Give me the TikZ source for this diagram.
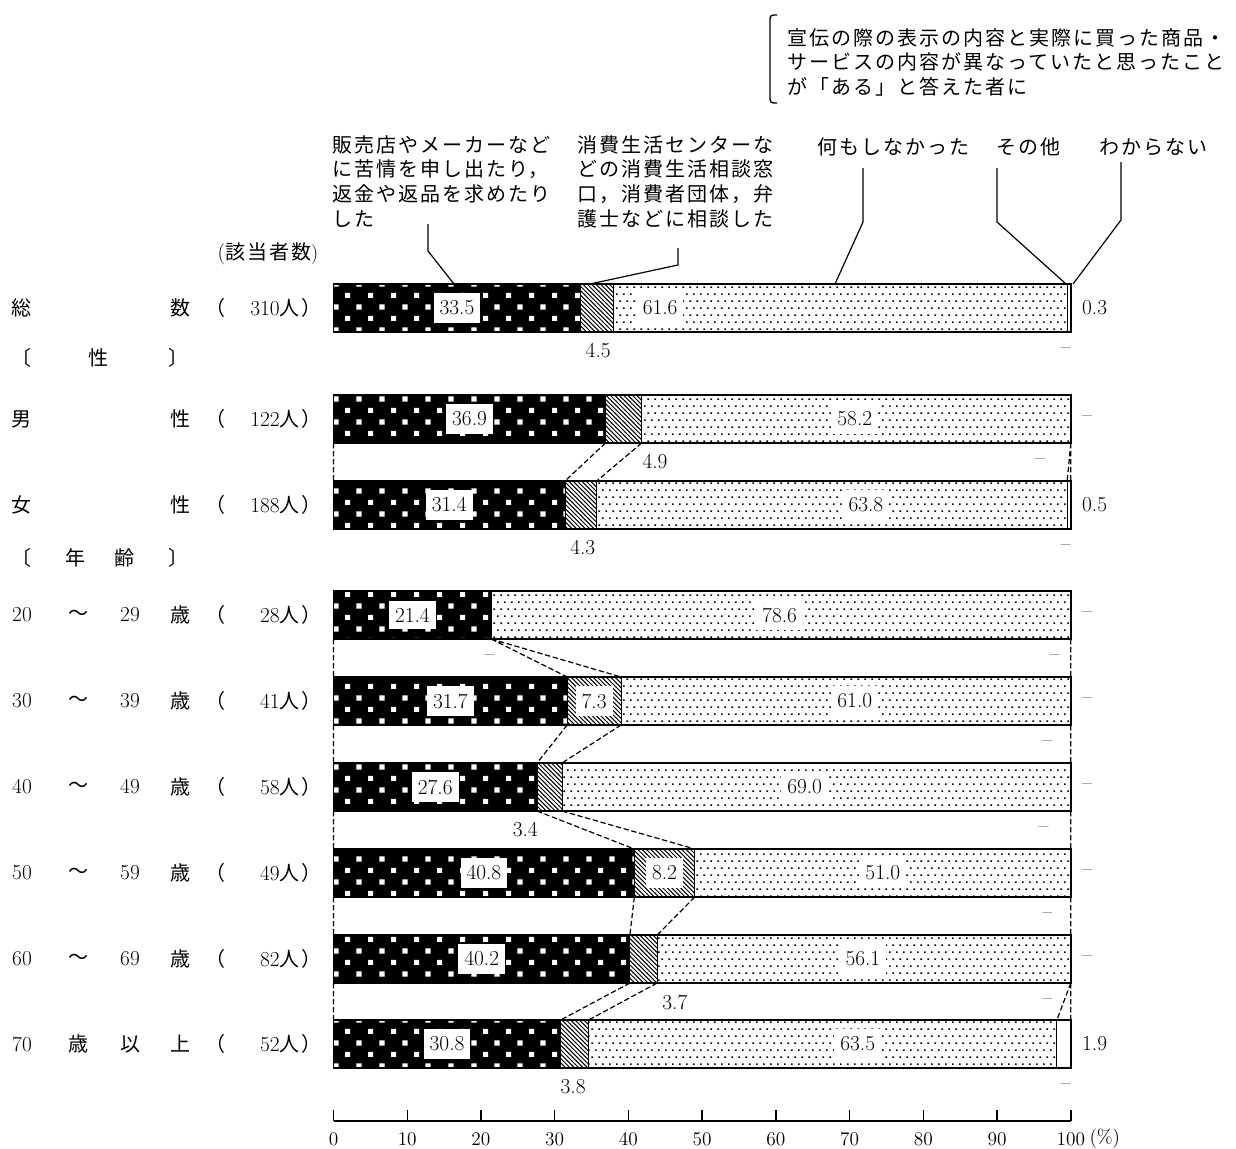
\documentclass[tikz,border=0pt]{standalone}
\usepackage{fontspec}
\newfontfamily\jp[LetterSpace=10]{Noto Sans CJK JP}
\usetikzlibrary{patterns}

\pgfdeclarepatternformonly{whitesq}{\pgfqpoint{-1pt}{-1pt}}{\pgfqpoint{18.25pt}{18.25pt}}{\pgfqpoint{17.25pt}{17.25pt}}{%
  \pgfpathrectangle{\pgfqpoint{0pt}{0pt}}{\pgfqpoint{3.8pt}{3.8pt}}%
  \pgfpathrectangle{\pgfqpoint{8.6pt}{8.6pt}}{\pgfqpoint{3.8pt}{3.8pt}}%
  \pgfusepath{fill}}
\pgfdeclarepatternformonly{sparsedots}{\pgfqpoint{-1pt}{-1pt}}{\pgfqpoint{6.25pt}{11.5pt}}{\pgfqpoint{5.25pt}{10.5pt}}{%
  \pgfpathrectangle{\pgfqpoint{0pt}{0pt}}{\pgfqpoint{1.3pt}{1.3pt}}%
  \pgfpathrectangle{\pgfqpoint{2.6pt}{5.25pt}}{\pgfqpoint{1.3pt}{1.3pt}}%
  \pgfusepath{fill}}
\pgfdeclarepatternformonly{hatch}{\pgfqpoint{-1pt}{-1pt}}{\pgfqpoint{4.3pt}{4.3pt}}{\pgfqpoint{3.3pt}{3.3pt}}{%
  \pgfsetlinewidth{0.75pt}%
  \pgfpathmoveto{\pgfqpoint{-0.1pt}{3.4pt}}%
  \pgfpathlineto{\pgfqpoint{3.4pt}{-0.1pt}}%
  \pgfusepath{stroke}}

\begin{document}
\begin{tikzpicture}[x=0.75pt,y=-0.75pt,
    jp/.style={font=\jp\fontsize{15}{18.5}\selectfont, inner sep=0pt},
    num/.style={font=\fontsize{16}{19}\selectfont, inner sep=0pt},
    val/.style={font=\fontsize{16}{19}\selectfont, fill=white, inner xsep=4.5pt, inner ysep=5.5pt},
    lead/.style={line width=0.9pt},
    link/.style={dash pattern=on 4pt off 2pt, line width=0.9pt}]
  \useasboundingbox (0,0) rectangle (1236,1149);

  % note above the chart
  \draw[line width=1pt] (777,15) .. controls (770,15) .. (770,23) -- (770,95) .. controls (770,103) .. (777,103);
  \node[jp, anchor=north west, align=left] (note) at (787,28) {宣伝の際の表示の内容と実際に買った商品・\\サービスの内容が異なっていたと思ったこと\\が「ある」と答えた者に};

  % category headers
  \node[jp, anchor=north west, align=left] (hdrA) at (332,135) {販売店やメーカーなど\\に苦情を申し出たり，\\返金や返品を求めたり\\した};
  \node[jp, anchor=north west, align=left] (hdrB) at (577,135) {消費生活センターな\\どの消費生活相談窓\\口，消費者団体，弁\\護士などに相談した};
  \node[jp, anchor=west] (hdrC) at (817,147) {何もしなかった};
  \node[jp, anchor=west] (hdrD) at (996,147) {その他};
  \node[jp, anchor=west] (hdrE) at (1099,147) {わからない};
  \node[num] (count) at (268,254) {(\jp\fontsize{15}{18}\selectfont 該当者数\rmfamily)};

  % leaders
  \coordinate (lA) at (428,224); \coordinate (kA) at (428,251); \coordinate (tipA) at (454,284);
  \coordinate (lB) at (678,248); \coordinate (kB) at (678,265); \coordinate (tipB) at (590,284);
  \coordinate (lC) at (863,168); \coordinate (kC) at (863,222); \coordinate (tipC) at (835,284);
  \coordinate (lD) at (997,168); \coordinate (kD) at (997,222); \coordinate (tipD) at (1066,284);
  \coordinate (lE) at (1121,162); \coordinate (kE) at (1121,220); \coordinate (tipE) at (1073,284);
  \foreach \k in {A,B,C,D,E}
    \draw[lead] (l\k) -- (k\k) -- (tip\k);

  % row labels
  \foreach \y/\l/\r/\n [count=\i] in {308/{\jp\fontsize{15}{18}\selectfont 総}/数/310, 419/{\jp\fontsize{15}{18}\selectfont 男}/性/122,
      505/{\jp\fontsize{15}{18}\selectfont 女}/性/188, 615/20/歳/28, 701/30/歳/41, 787/40/歳/58, 873/50/歳/49,
      959/60/歳/82, 1044/70/上/52}{
    \node[num] (lbl-\i) at (22,\y) {\l};
    \node[jp] (lbr-\i) at (180,\y) {\r};
    \node[jp] (lbp-\i) at (215,\y) {（};
    \node[num, anchor=east] (lbn-\i) at (322,\y) {\n{\jp\fontsize{15}{18}\selectfont 人）}};
  }
  \foreach \y/\m/\s [count=\i] in {615/～/29, 701/～/39, 787/～/49, 873/～/59, 959/～/69,
      1044/歳/{\jp\fontsize{15}{18}\selectfont 以}}{
    \node[jp] (agem-\i) at (78,\y) {\m};
    \node[num] (ages-\i) at (130,\y) {\s};
  }
  \node[jp] (sex-a) at (22,358) {〔};
  \node[jp] (sex-b) at (98,358) {性};
  \node[jp] (sex-c) at (178,358) {〕};
  \node[jp] (age-a) at (22,558) {〔};
  \node[jp] (age-b) at (75,558) {年};
  \node[jp] (age-c) at (124,558) {齢};
  \node[jp] (age-d) at (178,558) {〕};

  \begin{scope}[shift={(333.5,0)}, x=5.53pt]
    % bars
    \foreach \t/\a/\b/\c/\p [count=\i] in {284/33.5/4.5/61.6/44.3, 395/36.9/4.9/58.2/70.7, 481/31.4/4.3/63.8/72.2,
        591/21.4/0/78.6/60.5, 677/31.7/7.3/61.0/70.7, 763/27.6/3.4/69.0/63.9, 849/40.8/8.2/51.0/74.5,
        935/40.2/3.7/56.1/71.8, 1020/30.8/3.8/63.5/71.1}{
      \pgfmathsetmacro\bb{\a+\b}
      \pgfmathsetmacro\bc{\a+\b+\c}
      \fill[black] (0,\t) rectangle (\a,\t+48);
      \fill[pattern=whitesq, pattern color=white] (0,\t) rectangle (\a,\t+48);
      \fill[pattern=hatch] (\a,\t) rectangle (\bb,\t+48);
      \fill[pattern=sparsedots] (\bb,\t) rectangle (\bc,\t+48);
      \draw[line width=0.7pt] (\a,\t) -- (\a,\t+48) (\bb,\t) -- (\bb,\t+48) (\bc,\t) -- (\bc,\t+48);
      \draw[line width=1.1pt] (0,\t) rectangle (100,\t+48);
      \node[val] (c1-\i) at (\a/2,\t+24) {\a};
      \node[val] (c3-\i) at (\p,\t+24) {\c};
    }
    \node[val] (c2-5) at (35.35,701) {7.3};
    \node[val] (c2-7) at (44.9,873) {8.2};

    % links between neighbouring bars
    \foreach \t/\u/\pa/\pb/\pc/\qa/\qb/\qc in {443/481/36.9/41.8/100/31.4/35.7/99.5,
        639/677/21.4/21.4/100/31.7/39.0/100, 725/763/31.7/39.0/100/27.6/31.0/100,
        811/849/27.6/31.0/100/40.8/49.0/100, 897/935/40.8/49.0/100/40.2/43.9/100,
        983/1020/40.2/43.9/100/30.8/34.6/98.1}
      \draw[link] (0,\t) -- (0,\u) (\pa,\t) -- (\qa,\u) (\pb,\t) -- (\qb,\u) (\pc,\t) -- (\qc,\u) (100,\t) -- (100,\u);

    % small values
    \foreach \x/\y/\s [count=\i] in {35.9/351/4.5, 99.3/351/--, 43.6/462/4.9, 95.8/462/--, 33.8/548/4.3, 99.3/548/--,
        21.2/658/--, 97.8/658/--, 96.8/744/--, 26.0/830/3.4, 96.3/830/--, 96.8/916/--, 46.3/1002/3.7, 96.8/1002/--,
        32.5/1087/3.8, 99.3/1087/--}
      \node[num] (sm-\i) at (\x,\y) {\s};
    \foreach \y/\s [count=\i] in {308/0.3, 419/--, 505/0.5, 615/--, 701/--, 787/--, 873/--, 959/--, 1044/1.9}
      \node[num, anchor=west] (dk-\i) at (101.5,\y) {\s};

    % axis
    \draw[line width=1.1pt] (0,1121) -- (100,1121);
    \foreach \v in {0,10,...,100}{
      \draw[line width=1.1pt] (\v,1121) -- (\v,1110);
      \node[num, font=\fontsize{14.5}{16}\selectfont] (ax\v) at (\v,1139) {\v};
    }
    \node[num, font=\fontsize{14.5}{16}\selectfont] (pct) at (104.6,1139) {(\%)};
  \end{scope}
\end{tikzpicture}
\end{document}
